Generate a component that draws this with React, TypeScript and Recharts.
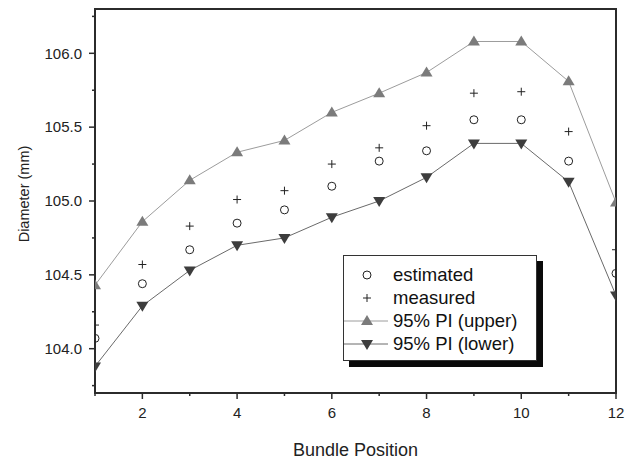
import React from 'react';
import {
    ComposedChart, Line, Scatter, XAxis, YAxis, ReferenceArea, Legend, Label
} from 'recharts';

const positions = [1, 2, 3, 4, 5, 6, 7, 8, 9, 10, 11, 12];
const estimated = [104.07, 104.44, 104.67, 104.85, 104.94, 105.10, 105.27, 105.34, 105.55, 105.55, 105.27, 104.51];
const measured = [104.16, 104.57, 104.83, 105.01, 105.07, 105.25, 105.36, 105.51, 105.73, 105.74, 105.47, 104.67];
const upperPI = [104.43, 104.86, 105.14, 105.33, 105.41, 105.60, 105.73, 105.87, 106.08, 106.08, 105.81, 104.99];
const lowerPI = [103.88, 104.29, 104.53, 104.70, 104.75, 104.89, 105.00, 105.16, 105.39, 105.39, 105.13, 104.36];

const xTicks = [1, 2, 3, 4, 5, 6, 7, 8, 9, 10, 11, 12];
const yTicks = [103.75, 104.0, 104.25, 104.5, 104.75, 105.0, 105.25, 105.5, 105.75, 106.0, 106.25];
const legendLabels = ['estimated', 'measured', '95% PI (upper)', '95% PI (lower)'];

const FONT = '"Liberation Sans", Arial, sans-serif';
const AXIS = '#2b2b2b';
const UPPER_LINE = '#9c9c9c';
const UPPER_MARK = '#7b7b7b';
const LOWER_LINE = '#6a6a6a';
const LOWER_MARK = '#3d3d3d';

const data = positions.map((pos, i) => ({
    pos,
    estimated: estimated[i],
    measured: measured[i],
    upper: upperPI[i],
    lower: lowerPI[i],
}));

const triUp = (cx: number, cy: number, fill: string, key?: any) => (
    <path key={key} d={`M${cx},${cy - 6} L${cx + 6},${cy + 4} L${cx - 6},${cy + 4} Z`} fill={fill} />
);
const triDown = (cx: number, cy: number, fill: string, key?: any) => (
    <path key={key} d={`M${cx},${cy + 6} L${cx + 6},${cy - 4} L${cx - 6},${cy - 4} Z`} fill={fill} />
);
const circle = (cx: number, cy: number) => (
    <circle cx={cx} cy={cy} r={4} fill="none" stroke="#222" strokeWidth={1} />
);
const plus = (cx: number, cy: number) => (
    <path d={`M${cx - 4},${cy} H${cx + 4} M${cx},${cy - 4} V${cy + 4}`} stroke="#222" strokeWidth={1} />
);

const renderXTick = (props: any) => {
    const { x, y, payload } = props;
    const major = payload.value % 2 === 0;
    return (
        <g>
            <line x1={x} y1={y} x2={x} y2={y + (major ? 6 : 3)} stroke={AXIS} strokeWidth={1.5} />
            {major && (
                <text x={x} y={y + 25} textAnchor="middle" fontSize={15} fontFamily={FONT} fill="#222">
                    {payload.value}
                </text>
            )}
        </g>
    );
};

const renderYTick = (props: any) => {
    const { x, y, payload } = props;
    const major = Math.abs(payload.value * 2 - Math.round(payload.value * 2)) < 1e-6;
    return (
        <g>
            <line x1={x} y1={y} x2={x - (major ? 6 : 3)} y2={y} stroke={AXIS} strokeWidth={1.5} />
            {major && (
                <text x={x - 13} y={y} dy="0.35em" textAnchor="end" fontSize={15} fontFamily={FONT} fill="#222">
                    {payload.value.toFixed(1)}
                </text>
            )}
        </g>
    );
};

const legendIcon = (i: number) => {
    if (i === 0) return circle(23, 12);
    if (i === 1) return plus(23, 12);
    if (i === 2) return (
        <g>
            <line x1={0} y1={12} x2={44} y2={12} stroke={UPPER_LINE} strokeWidth={1} />
            {triUp(23, 12, UPPER_MARK)}
        </g>
    );
    return (
        <g>
            <line x1={0} y1={12} x2={44} y2={12} stroke={LOWER_LINE} strokeWidth={1} />
            {triDown(23, 12, LOWER_MARK)}
        </g>
    );
};

const renderLegend = () => (
    <div style={{
        position: 'relative', width: 194, height: 106, boxSizing: 'border-box',
        border: '1px solid #333', background: '#fff', boxShadow: '6px 6px 0 #0a0a0a',
        fontFamily: FONT, fontSize: 18.5, color: '#111',
    }}>
        {legendLabels.map((label, i) => (
            <div key={label} style={{
                position: 'absolute', left: 0, top: 19 + i * 23 - 12, height: 24,
                display: 'flex', alignItems: 'center', whiteSpace: 'nowrap',
            }}>
                <svg width={44} height={24} style={{ display: 'block' }}>{legendIcon(i)}</svg>
                <span style={{ marginLeft: 5 }}>{label}</span>
            </div>
        ))}
    </div>
);

export default function App() {
    return (
        <div style={{ position: 'absolute', left: 0, top: 0, background: '#fff' }}>
            <ComposedChart width={632} height={461} data={data} margin={{ top: 9, right: 16, left: 0, bottom: 0 }}>
                <XAxis
                    type="number" dataKey="pos" domain={[1, 12]} ticks={xTicks} interval={0}
                    allowDataOverflow axisLine={false} tickLine={false} tickSize={0} tickMargin={0}
                    height={68} tick={renderXTick}
                >
                    <Label content={(p: any) => {
                        const vb = p.viewBox;
                        return (
                            <text x={vb.x + vb.width / 2} y={vb.y + 63} textAnchor="middle"
                                fontSize={18} fontFamily={FONT} fill="#222">Bundle Position</text>
                        );
                    }} />
                </XAxis>
                <YAxis
                    type="number" domain={[103.7, 106.3]} ticks={yTicks} interval={0}
                    allowDataOverflow axisLine={false} tickLine={false} tickSize={0} tickMargin={0}
                    width={95} tick={renderYTick}
                >
                    <Label content={(p: any) => {
                        const vb = p.viewBox;
                        const cx = vb.x + 24;
                        const cy = vb.y + vb.height / 2 - 7;
                        return (
                            <text x={cx} y={cy} dy="0.35em" textAnchor="middle" transform={`rotate(-90, ${cx}, ${cy})`}
                                fontSize={14.5} fontFamily={FONT} fill="#222">Diameter (mm)</text>
                        );
                    }} />
                </YAxis>
                <Line
                    dataKey="upper" stroke={UPPER_LINE} strokeWidth={1} isAnimationActive={false}
                    dot={(p: any) => triUp(p.cx, p.cy, UPPER_MARK, `u${p.index}`)} activeDot={false}
                />
                <Line
                    dataKey="lower" stroke={LOWER_LINE} strokeWidth={1} isAnimationActive={false}
                    dot={(p: any) => triDown(p.cx, p.cy, LOWER_MARK, `l${p.index}`)} activeDot={false}
                />
                <Scatter dataKey="estimated" isAnimationActive={false} shape={(p: any) => circle(p.cx, p.cy)} />
                <Scatter dataKey="measured" isAnimationActive={false} shape={(p: any) => plus(p.cx, p.cy)} />
                <ReferenceArea x1={1} x2={12} y1={103.7} y2={106.3} fill="none" stroke={AXIS} strokeWidth={2} />
                <Legend
                    verticalAlign="middle" align="center" layout="horizontal"
                    wrapperStyle={{ left: 343, top: 255, width: 194, height: 106 }}
                    content={renderLegend}
                />
            </ComposedChart>
        </div>
    );
}
